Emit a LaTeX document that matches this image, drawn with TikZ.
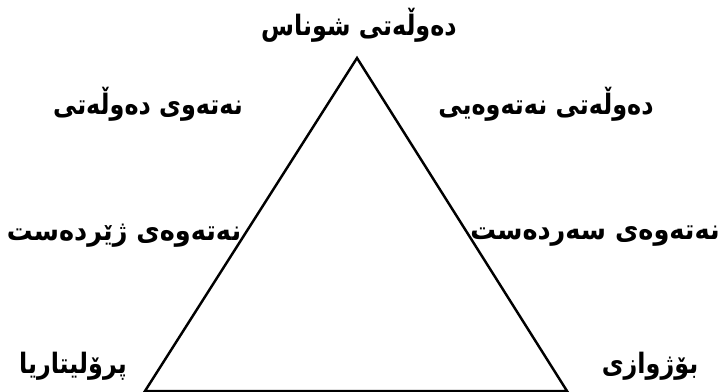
\documentclass[tikz,border=0pt]{standalone}
\usepackage{fontspec}
\TeXXeTstate=1
\newfontfamily\kurdfont[Script=Arabic, FakeStretch=0.85]{DejaVu Sans}
\newfontfamily\kurdwide[Script=Arabic, FakeStretch=0.91]{DejaVu Sans}
\tikzset{
  lbl/.style={font=\kurdfont\bfseries\fontsize{16}{19}\selectfont, inner sep=0pt},
  widelbl/.style={lbl, font=\kurdwide\bfseries\fontsize{16}{19}\selectfont},
  side/.style={line width=1.4pt, line join=miter}
}
\begin{document}
\begin{tikzpicture}[x=0.02cm, y=-0.02cm]
  \useasboundingbox (0,0) rectangle (727,392);
  % triangle corners
  \coordinate (apex) at (357,58);
  \coordinate (left) at (145,391);
  \coordinate (right) at (567,391);
  \draw[side] (apex) -- (left) -- (right) -- cycle;

  \node[lbl] (shunas) at (359,25) {\beginR دەوڵەتی شوناس\endR};
  \node[lbl] (netewi) at (148,104) {\beginR نەتەوی دەوڵەتی\endR};
  \node[lbl] (dewlet) at (546,104) {\beginR دەوڵەتی نەتەوەیی\endR};
  \node[widelbl] (zherdest) at (124,236) {\beginR نەتەوەی ژێردەست\endR};
  \node[widelbl] (serdest) at (595,236) {\beginR نەتەوەی سەردەست\endR};
  \node[lbl] (prol) at (73,366) {\beginR پرۆلیتاریا\endR};
  \node[lbl] (borj) at (650,366) {\beginR بۆژوازی\endR};
\end{tikzpicture}
\end{document}
